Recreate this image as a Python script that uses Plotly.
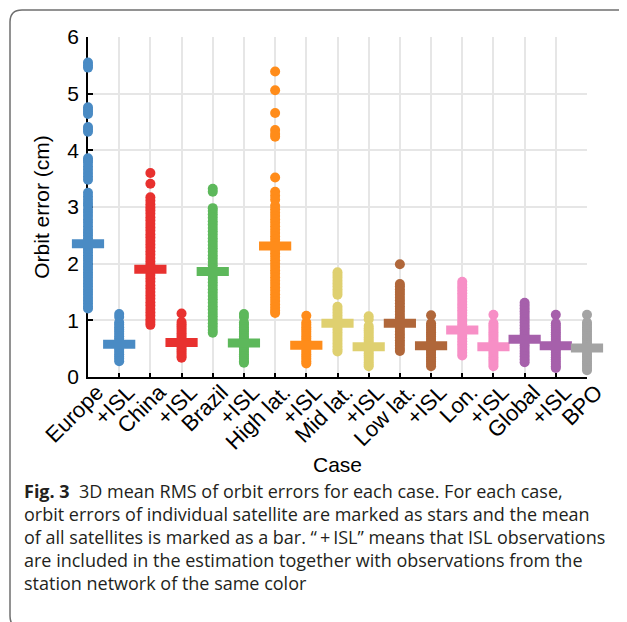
import plotly.graph_objects as go

# ---------------- data ----------------
tick_labels = ["Europe", "+ISL", "China", "+ISL", "Brazil", "+ISL", "High lat.", "+ISL",
               "Mid lat.", "+ISL", "Low lat.", "+ISL", "Lon.", "+ISL", "Global", "+ISL", "BPO"]

colors = ["#4a8bc4", "#4a8bc4", "#e8312f", "#e8312f", "#5db85b", "#5db85b",
          "#ff8c1a", "#ff8c1a", "#dfd070", "#dfd070", "#b0673a", "#b0673a",
          "#f78fc6", "#f78fc6", "#a660ab", "#a660ab", "#a3a3a3"]

mean_error = [2.35, 0.58, 1.90, 0.61, 1.86, 0.60, 2.31, 0.56, 0.95, 0.535,
              0.95, 0.55, 0.83, 0.535, 0.665, 0.55, 0.51]

europe = [5.55, 5.5, 5.46, 4.76, 4.72, 4.68, 4.64, 4.41, 4.37, 4.33, 3.86, 3.82, 3.78, 3.72,
          3.66, 3.6, 3.54, 3.48, 3.25, 3.19, 3.13, 3.07, 3.02, 2.95, 2.9, 2.84, 2.78, 2.72,
          2.66, 2.6, 2.55, 2.5, 2.45, 2.4, 2.35, 2.3, 2.25, 2.2, 2.15, 2.1, 2.05, 2.0, 1.95,
          1.9, 1.85, 1.8, 1.75, 1.7, 1.65, 1.6, 1.55, 1.5, 1.45, 1.4, 1.35, 1.3, 1.25, 1.21]
europe_isl = [1.11, 1.06, 0.96, 0.92, 0.88, 0.84, 0.8, 0.76, 0.72, 0.68, 0.64, 0.6, 0.56,
              0.52, 0.48, 0.44, 0.4, 0.36, 0.32, 0.28]
china = [3.6, 3.41, 3.17, 3.11, 3.05, 2.99, 2.94, 2.88, 2.82, 2.76, 2.7, 2.64, 2.58, 2.52,
         2.46, 2.4, 2.34, 2.28, 2.22, 2.16, 2.1, 2.04, 1.98, 1.92, 1.86, 1.8, 1.74, 1.68,
         1.62, 1.56, 1.5, 1.44, 1.38, 1.32, 1.26, 1.2, 1.14, 1.08, 1.02, 0.97, 0.92]
china_isl = [1.12, 0.97, 0.93, 0.89, 0.85, 0.81, 0.77, 0.73, 0.69, 0.65, 0.61, 0.57, 0.53,
             0.49, 0.45, 0.41, 0.37, 0.34]
brazil = [3.32, 3.27, 2.98, 2.93, 2.87, 2.81, 2.75, 2.69, 2.63, 2.57, 2.51, 2.45, 2.39,
          2.33, 2.27, 2.21, 2.15, 2.09, 2.03, 1.97, 1.91, 1.85, 1.79, 1.73, 1.67, 1.61,
          1.55, 1.49, 1.43, 1.37, 1.31, 1.25, 1.19, 1.13, 1.07, 1.01, 0.95, 0.89, 0.83, 0.78]
brazil_isl = [1.11, 1.06, 0.96, 0.92, 0.88, 0.84, 0.8, 0.76, 0.72, 0.68, 0.64, 0.6, 0.56,
              0.52, 0.48, 0.44, 0.4, 0.36, 0.32, 0.28, 0.25]
high_lat = [5.39, 5.06, 4.66, 4.36, 4.29, 4.24, 3.52, 3.27, 3.2, 3.13, 3.02, 2.96, 2.9,
            2.84, 2.78, 2.72, 2.66, 2.6, 2.54, 2.48, 2.42, 2.36, 2.3, 2.24, 2.18, 2.12,
            2.06, 2.0, 1.94, 1.88, 1.82, 1.76, 1.7, 1.64, 1.58, 1.52, 1.46, 1.4, 1.34,
            1.28, 1.22, 1.17, 1.13]
high_lat_isl = [1.08, 0.96, 0.92, 0.88, 0.84, 0.8, 0.76, 0.72, 0.68, 0.64, 0.6, 0.56,
                0.52, 0.48, 0.44, 0.4, 0.36, 0.32, 0.28, 0.24]
mid_lat = [1.85, 1.8, 1.75, 1.7, 1.65, 1.6, 1.55, 1.5, 1.45, 1.24, 1.19, 1.14, 1.09, 1.04,
           0.99, 0.94, 0.89, 0.84, 0.79, 0.74, 0.69, 0.64, 0.59, 0.54, 0.49, 0.45]
mid_lat_isl = [1.07, 1.02, 0.9, 0.86, 0.82, 0.78, 0.74, 0.7, 0.66, 0.62, 0.58, 0.54, 0.5,
               0.46, 0.42, 0.38, 0.34, 0.3, 0.26, 0.22, 0.19]
low_lat = [1.99, 1.64, 1.6, 1.55, 1.5, 1.45, 1.4, 1.35, 1.3, 1.25, 1.2, 1.15, 1.1, 1.05,
           1.0, 0.95, 0.9, 0.85, 0.8, 0.75, 0.7, 0.65, 0.6, 0.55, 0.5, 0.46]
low_lat_isl = [1.09, 0.95, 0.91, 0.87, 0.83, 0.79, 0.75, 0.71, 0.67, 0.63, 0.59, 0.55,
               0.51, 0.47, 0.43, 0.39, 0.35, 0.31, 0.27, 0.23, 0.19]
lon = [1.68, 1.63, 1.58, 1.53, 1.48, 1.43, 1.38, 1.33, 1.28, 1.23, 1.18, 1.13, 1.08, 1.03,
       0.98, 0.93, 0.88, 0.83, 0.78, 0.73, 0.68, 0.63, 0.58, 0.53, 0.48, 0.43, 0.38]
lon_isl = [1.1, 0.95, 0.91, 0.87, 0.83, 0.79, 0.75, 0.71, 0.67, 0.63, 0.59, 0.55, 0.51,
           0.47, 0.43, 0.39, 0.35, 0.31, 0.27, 0.23, 0.19]
global_net = [1.31, 1.26, 1.21, 1.16, 1.11, 1.06, 1.01, 0.96, 0.91, 0.86, 0.81, 0.76, 0.71,
              0.66, 0.61, 0.56, 0.51, 0.46, 0.41, 0.36, 0.31, 0.26]
global_isl = [1.1, 0.95, 0.91, 0.87, 0.83, 0.79, 0.75, 0.71, 0.67, 0.63, 0.59, 0.55, 0.51,
              0.47, 0.43, 0.39, 0.35, 0.31, 0.27, 0.23, 0.19, 0.16]
bpo = [1.1, 0.96, 0.92, 0.88, 0.84, 0.8, 0.76, 0.72, 0.68, 0.64, 0.6, 0.56, 0.52, 0.48,
       0.44, 0.4, 0.36, 0.32, 0.28, 0.24, 0.2, 0.16, 0.12]

satellite_errors = [europe, europe_isl, china, china_isl, brazil, brazil_isl, high_lat,
                    high_lat_isl, mid_lat, mid_lat_isl, low_lat, low_lat_isl, lon, lon_isl,
                    global_net, global_isl, bpo]

caption_lines = [
    "<b>Fig. 3</b>  3D mean RMS of orbit errors for each case. For each case,",
    "orbit errors of individual satellite are marked as stars and the mean",
    "of all satellites is marked as a bar. \u201c\u2009+\u2009ISL\u201d means that ISL observations",
    "are included in the estimation together with observations from the",
    "station network of the same color",
]

# ---------------- figure ----------------
OFF = 8                      # page body margin of the html page
W, H = 627 - OFF, 622 - OFF
# target page pixels: plot x 88..587, y 37..377
ML, MT = 88 - OFF, 37 - OFF
MR = 627 - 587
MB = H + OFF - 377
PW, PH = W - ML - MR, H - MT - MB


def px(xpage):
    return (xpage - OFF - ML) / PW


def py(ypage):
    return (H - MB - (ypage - OFF)) / PH


fig = go.Figure()
positions = list(range(len(tick_labels)))

for pos, vals, col in zip(positions, satellite_errors, colors):
    fig.add_trace(go.Scatter(
        x=[pos] * len(vals), y=vals, mode="markers",
        marker=dict(size=10, color=col, line=dict(width=0)),
        cliponaxis=False, showlegend=False, hoverinfo="y"))

fig.add_trace(go.Scatter(
    x=positions, y=mean_error, mode="markers",
    marker=dict(symbol="line-ew", size=23, color=colors,
                line=dict(width=9, color=colors)),
    cliponaxis=False, showlegend=False))

font_main = "Liberation Sans, Arial, sans-serif"

fig.update_layout(
    width=W, height=H,
    margin=dict(l=ML, r=MR, t=MT, b=MB, autoexpand=False),
    paper_bgcolor="white", plot_bgcolor="white",
    font=dict(family=font_main, color="black"),
    xaxis=dict(
        range=[0, 16], tickmode="array", tickvals=positions, ticktext=tick_labels,
        tickangle=-45, tickfont=dict(size=22, family=font_main),
        ticks="inside", ticklen=4, tickwidth=1.5, tickcolor="black",
        ticklabelstandoff=-8, ticklabelshift=9,
        showline=True, linecolor="black", linewidth=1.5,
        showgrid=True, gridcolor="#e6e6e6", gridwidth=1.5, zeroline=False,
        layer="below traces",
        title=dict(text="Case", font=dict(size=21, family=font_main), standoff=4),
        automargin=False,
    ),
    yaxis=dict(
        range=[0, 6], tickmode="linear", tick0=0, dtick=1,
        tickfont=dict(size=21, family=font_main),
        ticks="inside", ticklen=5, tickwidth=1.5, tickcolor="black",
        ticklabelstandoff=3,
        showline=True, linecolor="black", linewidth=1.5,
        showgrid=True, gridcolor="#e6e6e6", gridwidth=1.5, zeroline=False,
        layer="below traces",
        title=dict(text="Orbit error (cm)", font=dict(size=21, family=font_main), standoff=12),
        automargin=False,
    ),
)

# caption frame (rounded box, left part visible)
r = 12
frame = (f"M {px(650)},{py(10)} L {px(10 + r)},{py(10)} "
         f"Q {px(10)},{py(10)} {px(10)},{py(10 + r)} "
         f"L {px(10)},{py(616)} Q {px(10)},{py(628)} {px(10 + r)},{py(628)}")
fig.add_shape(type="path", path=frame, xref="paper", yref="paper",
              line=dict(color="#6f6f6f", width=1.5))

cap_y = [491, 514, 537, 560, 583]
for text, yy in zip(caption_lines, cap_y):
    fig.add_annotation(text=text, xref="paper", yref="paper", x=px(22), y=py(yy),
                       xanchor="left", yanchor="middle", showarrow=False, align="left",
                       font=dict(family="Open Sans, sans-serif", size=18,
                                 color="#231f20"))

fig.write_html("out.html")
